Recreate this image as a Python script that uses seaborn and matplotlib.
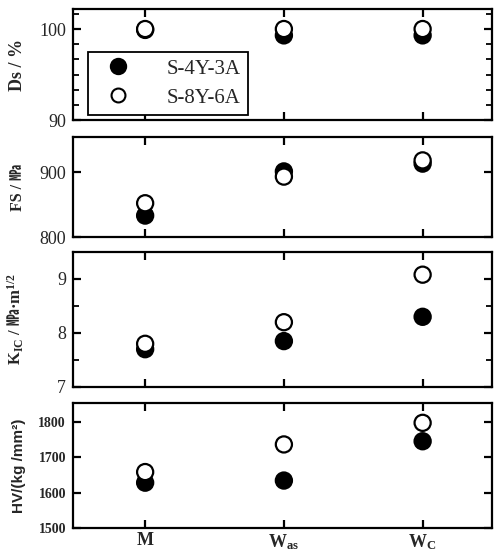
import numpy as np
import pandas as pd
import seaborn as sns
import matplotlib
matplotlib.use("Agg")
import matplotlib.pyplot as plt
from matplotlib.ticker import MultipleLocator, AutoMinorLocator, NullLocator
from matplotlib.lines import Line2D

# ---------------- data ----------------
conditions = ["M", "Was", "Wc"]
series_names = ["S-4Y-3A", "S-8Y-6A"]
ds_4y3a = [99.9, 99.3, 99.3]
ds_8y6a = [100.0, 100.0, 100.0]
fs_4y3a = [833, 901, 913]
fs_8y6a = [852, 893, 918]
kic_4y3a = [7.70, 7.85, 8.30]
kic_8y6a = [7.80, 8.20, 9.08]
hv_4y3a = [1628, 1634, 1745]
hv_8y6a = [1658, 1736, 1797]
x_tick_labels = ["M", r"W$_{\mathregular{as}}$", r"W$_{\mathregular{C}}$"]

sns.set_theme(style="ticks")
plt.rcParams["font.family"] = ["Liberation Serif", "Noto Sans CJK JP", "DejaVu Sans"]
plt.rcParams["mathtext.fontset"] = "custom"
plt.rcParams["mathtext.rm"] = "Noto Sans CJK JP:bold"
plt.rcParams["mathtext.bf"] = "Liberation Serif:bold"
plt.rcParams["mathtext.it"] = "Liberation Serif:bold:italic"


def long_df(a, b):
    return pd.DataFrame({
        "cond": conditions * 2,
        "series": [series_names[0]] * 3 + [series_names[1]] * 3,
        "value": list(a) + list(b),
    })


panels = [
    dict(df=long_df(ds_4y3a, ds_8y6a), ylim=(90, 102.2), major=10, minor=6,
         label="Ds / %", lsize=13, lfam=["Liberation Serif"]),
    dict(df=long_df(fs_4y3a, fs_8y6a), ylim=(800, 954), major=100, minor=None,
         label="FS / ㎫", lsize=11.5, lfam=["Liberation Serif", "Noto Sans CJK JP"]),
    dict(df=long_df(kic_4y3a, kic_8y6a), ylim=(7, 9.5), major=1, minor=2,
         label=r"K$_{\mathregular{IC}}$ / $\mathrm{㎫}$·m$^{\mathregular{1/2}}$", lsize=12,
         lfam=["Liberation Serif"]),
    dict(df=long_df(hv_4y3a, hv_8y6a), ylim=(1500, 1853), major=100, minor=None,
         label="HV/(kg /mm²)", lsize=11, lfam=["Liberation Sans"]),
]

W, H = 494, 551
fig = plt.figure(figsize=(W / 100, H / 100), dpi=100)
boxes = [(9, 120), (137, 237), (252, 387), (403, 528)]
x0, x1 = 73, 492

palette = {series_names[0]: "black", series_names[1]: "white"}

for i, (p, (top, bot)) in enumerate(zip(panels, boxes)):
    ax = fig.add_axes([x0 / W, 1 - bot / H, (x1 - x0) / W, (bot - top) / H])
    sns.scatterplot(data=p["df"], x="cond", y="value", hue="series",
                    palette=palette, hue_order=series_names, s=135,
                    edgecolor="black", linewidth=1.6, legend=False, ax=ax,
                    zorder=3)
    ax.set_xlim(-0.52, 2.5)
    ax.set_ylim(*p["ylim"])
    ax.yaxis.set_major_locator(MultipleLocator(p["major"]))
    if p["minor"]:
        ax.yaxis.set_minor_locator(AutoMinorLocator(p["minor"]))
    else:
        ax.yaxis.set_minor_locator(NullLocator())
    ax.set_xticks([0, 1, 2])
    for s in ax.spines.values():
        s.set_linewidth(1.6)
        s.set_color("black")
    ax.tick_params(which="both", direction="in", top=True, right=True,
                   color="black")
    ax.tick_params(which="major", length=6, width=1.6, pad=5)
    ax.tick_params(which="minor", length=4, width=1.3)
    ax.set_xlabel("")
    ax.set_ylabel(p["label"], fontsize=p["lsize"], fontweight="bold",
                  family=p["lfam"])
    ax.yaxis.set_label_coords(-0.112, 0.5)
    if i == 3:
        ax.set_xticklabels(x_tick_labels, fontsize=13, fontweight="bold")
        ax.tick_params(axis="x", which="major", pad=3)
        for t in ax.get_yticklabels():
            t.set_fontsize(10)
            t.set_fontweight("bold")
    else:
        ax.set_xticklabels([])
        for t in ax.get_yticklabels():
            t.set_fontsize(13)
    if i == 0:
        handles = [
            Line2D([], [], marker="o", ls="", ms=11, mfc="black", mec="black", mew=1.5),
            Line2D([], [], marker="o", ls="", ms=10, mfc="white", mec="black", mew=1.5),
        ]
        leg = ax.legend(handles, series_names, loc="lower left",
                        bbox_to_anchor=(0.036, 0.045), borderaxespad=0,
                        fontsize=15, frameon=True, fancybox=False,
                        edgecolor="black", framealpha=1, handlelength=2.2,
                        handletextpad=1.2, borderpad=0.35, labelspacing=0.45)
        leg.get_frame().set_linewidth(1.3)

fig.savefig("out.png", dpi=100)
